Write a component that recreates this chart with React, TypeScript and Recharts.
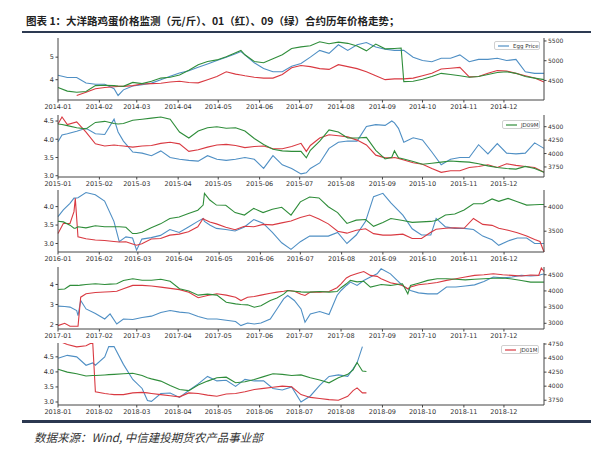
import React from "react"
import { LineChart, Line, XAxis, YAxis } from "recharts"

// day-of-year sample points, one panel per year
const days2014 = [0, 7, 14, 21, 28, 35, 42, 45, 49, 56, 63, 70, 77, 84, 91, 98, 105, 112, 119, 126, 133, 137, 140, 147, 154, 161, 168, 175, 182, 189, 196, 203, 210, 217, 224, 231, 238, 245, 252, 257, 259, 266, 273, 280, 287, 294, 301, 308, 315, 322, 329, 336, 343, 350, 357, 364]
const egg2014 = [4.2, 4.1, 4.1, 3.85, 3.8, 3.8, 3.6, 3.3,
  3.55, 3.72, 3.78, 3.85, 4.0, 4.15, 4.3, 4.4,
  4.55, 4.7, 4.85, 5.0, 5.15, 5.25, 5.1, 4.75,
  4.5, 4.35, 4.35, 4.6, 4.72, 5.0, 5.3, 5.17,
  5.55, 5.3, 5.55, 5.65, 5.45, 5.35, 5.3, 5.3,
  5.3, 5.0, 4.85, 4.8, 4.95, 4.95, 5.1, 4.8,
  4.9, 4.9, 4.95, 4.85, 4.9, 4.35, 4.28, 4.28]
const jd01_2014 = [null, null, 4120, 4200, 4290, 4320, 4340, 4350,
  4350, 4370, 4410, 4420, 4430, 4460, 4480, 4450,
  4440, 4520, 4600, 4720, 4660, 4640, 4620, 4580,
  4560, 4560, 4650, 4820, 4880, 4850, 4800, 4780,
  4900, 4850, 4800, 4720, 4620, 4520, 4540, 4540,
  4540, 4560, 4620, 4680, 4790, 4810, 4830, 4590,
  4600, 4680, 4750, 4740, 4680, 4620, 4560, 4460]
const jd09_2014 = [4320, 4230, 4200, 4220, 4370, 4380, 4370, 4360,
  4350, 4450, 4420, 4480, 4560, 4580, 4640, 4760,
  4900, 4980, 5020, 5100, 5200, 5260, 5150, 4980,
  4950, 5050, 5150, 5310, 5350, 5380, 5480, 5430,
  5470, 5440, 5370, 5250, 5420, 5300, 5310, 5320,
  4470, 4480, 4530, 4600, 4680, 4650, 4620, 4580,
  4600, 4650, 4700, 4720, 4680, 4600, 4560, 4520]

const days2015 = [0, 3, 7, 14, 21, 28, 35, 42, 45, 49, 56, 63, 70, 77, 84, 91, 98, 105, 112, 119, 126, 133, 140, 147, 154, 161, 168, 175, 182, 186, 189, 196, 203, 210, 217, 224, 231, 238, 245, 250, 252, 255, 259, 266, 273, 280, 287, 294, 301, 308, 315, 322, 329, 336, 343, 350, 357, 364]
const egg2015 = [3.93, 4.12, 4.15, 4.22, 4.3, 4.15, 4.13, 4.55,
  4.2, 3.95, 3.65, 3.62, 3.55, 3.68, 3.5, 3.45,
  3.42, 3.4, 3.55, 3.45, 3.42, 3.45, 3.5, 3.45,
  3.2, 3.55, 3.3, 3.2, 3.05, 3.08, 3.2, 3.35,
  3.75, 3.92, 3.95, 3.95, 4.35, 4.4, 4.38, 4.5,
  4.45, 4.3, 3.92, 4.04, 3.98, 3.65, 3.3, 3.45,
  3.5, 3.5, 3.85, 3.6, 3.88, 3.62, 3.6, 3.62,
  3.9, 3.75]
const jd01_2015 = [4550, 4680, 4540, 4590, 4400, 4180, 4140, 4160,
  4150, 4140, 4120, 4140, 4150, 4190, 4210, 4180,
  4040, 4070, 4120, 4160, 4170, 4150, 4110, 4130,
  4140, 4090, 4090, 4130, 4190, 4040, 4150, 4290,
  4350, 4330, 4310, 4250, 4160, 3970, 3920, 3920,
  3925, 3910, 3880, 3830, 3800, 3720, 3650, 3680,
  3680, 3740, 3760, 3790, 3740, 3810, 3780, 3760,
  3740, 3650]
const jd09_2015 = [4550, 4540, 4520, 4480, 4460, 4580, 4600, 4560,
  4550, 4560, 4620, 4640, 4660, 4680, 4640, 4400,
  4290, 4420, 4480, 4500, 4470, 4480, 4420, 4280,
  4170, 4080, 4050, 4040, 4040, 3920, 4060, 4230,
  4440, 4400, 4290, 4290, 4300, 4060, 3900, 3930,
  4050, 3920, 3900, 3850, 3800, 3820, 3840, 3860,
  3850, 3840, 3810, 3770, 3740, 3720, 3710, 3760,
  3720, 3650]

const days2016 = [0, 4, 9, 12, 13, 15, 21, 28, 35, 42, 46, 51, 56, 59, 63, 70, 77, 84, 91, 98, 105, 109, 110, 114, 119, 126, 133, 140, 147, 154, 161, 168, 175, 182, 189, 196, 203, 210, 217, 224, 231, 237, 244, 250, 259, 266, 273, 280, 284, 291, 298, 305, 312, 319, 326, 331, 338, 345, 352, 358, 362, 365]
const egg2016 = [3.73, 3.91, 4.09, 4.23, 4.23, 4.24, 4.38, 4.32,
  4.15, 3.6, 3.05, 3.18, 3.15, 2.82, 3.12, 3.16,
  3.22, 3.38, 3.3, 3.45, 3.6, 3.68, 3.6, 3.5,
  3.41, 3.38, 3.34, 3.45, 3.65, 3.55, 3.3, 3.02,
  2.84, 3.05, 3.2, 3.2, 3.2, 3.3, 3.0, 3.23,
  3.6, 4.27, 4.36, 4.1, 3.77, 3.4, 3.23, 3.23,
  3.68, 3.45, 3.41, 3.41, 3.38, 3.2, 3.1, 2.95,
  3.07, 3.15, 3.15, 3.0, 3.0, 3.0]
const jd01_2016 = [3452, 3658, 3660, 3900, 4171, 3384, 3345, 3320,
  3310, 3290, 3280, 3285, 3240, 3212, 3245, 3340,
  3350, 3420, 3440, 3490, 3590, 3760, 3740, 3690,
  3650, 3580, 3530, 3600, 3590, 3640, 3630, 3670,
  3710, 3780, 3830, 3750, 3650, 3500, 3460, 3520,
  3550, 3450, 3420, 3420, 3440, 3350, 3350, 3480,
  3540, 3560, 3570, 3560, 3760, 3640, 3620, 3560,
  3520, 3470, 3400, 3330, 3290, 3075]
const jd09_2016 = [3705, 3690, 3623, 3560, 3560, 3590, 3569, 3610,
  3590, 3590, 3590, 3580, 3452, 3452, 3480, 3570,
  3650, 3760, 3790, 3860, 3930, 4034, 4274, 4137,
  4034, 4030, 3880, 3830, 3966, 3880, 3950, 3990,
  3829, 4100, 4200, 4180, 4000, 3880, 3658, 3726,
  3740, 3600, 3680, 3760, 3720, 3680, 3690, 3700,
  3720, 3830, 3850, 3932, 4060, 4060, 4160, 4110,
  4170, 4103, 4034, 4040, 4045, 4045]

const days2017 = [0, 5, 9, 14, 15, 17, 21, 28, 35, 39, 44, 49, 56, 63, 70, 77, 84, 91, 98, 105, 112, 119, 126, 133, 137, 142, 147, 152, 159, 164, 169, 172, 177, 182, 185, 189, 196, 203, 209, 212, 216, 219, 224, 229, 234, 239, 242, 249, 254, 258, 262, 264, 270, 277, 284, 291, 298, 305, 312, 319, 326, 333, 340, 347, 354, 360, 362, 364]
const egg2017 = [2.92, 2.9, 2.87, 2.7, 2.45, 3.2, 2.78, 2.55,
  2.28, 2.53, 2.03, 2.28, 2.25, 2.35, 2.42, 2.6,
  2.7, 2.62, 2.58, 2.4, 2.28, 2.28, 2.22, 2.15,
  1.95, 2.08, 2.03, 2.08, 2.28, 2.78, 3.28, 3.45,
  3.2, 2.78, 2.12, 2.53, 2.65, 2.5, 3.45, 3.7,
  3.95, 4.12, 3.95, 4.2, 4.37, 4.53, 4.78, 4.53,
  4.2, 3.95, 3.78, 3.7, 3.58, 3.53, 3.53, 3.87,
  3.87, 3.92, 3.98, 4.15, 4.37, 4.33, 4.37, 4.45,
  4.42, 4.45, 4.5, 4.52]
const jd01_2017 = [2928, 3000, 2907, 2907, 2910, 3807, 3911, 3950,
  3965, 3975, 3990, 4066, 4170, 4170, 4150, 4118,
  4080, 4040, 3962, 3790, 3859, 3911, 3870, 3807,
  3704, 3807, 3830, 3870, 3930, 3962, 3990, 4014,
  3990, 3900, 3859, 3962, 3962, 3983, 4100, 4221,
  4400, 4470, 4540, 4600, 4480, 4450, 4377, 4250,
  4210, 4170, 4066, 4120, 4190, 4221, 4260, 4325,
  4377, 4428, 4480, 4500, 4532, 4500, 4480, 4460,
  4490, 4480, 4708, 4600]
const jd09_2017 = [4045, 4060, 4170, 4170, 4170, 4180, 4200, 4221,
  4200, 4210, 4221, 4325, 4377, 4330, 4330, 4360,
  4300, 4066, 4000, 3870, 3900, 3870, 3652, 3600,
  3580, 3570, 3497, 3540, 3704, 3780, 3900, 4014,
  3990, 3970, 3962, 3962, 3980, 3962, 3980, 4100,
  4220, 4325, 4280, 4300, 4118, 4170, 4200, 4170,
  4200, 4221, 3911, 4166, 4240, 4325, 4377, 4377,
  4360, 4340, 4360, 4377, 4390, 4400, 4370, 4320,
  4273, 4273, 4273, 4273]

const days2018 = [0, 7, 14, 21, 26, 28, 35, 38, 42, 49, 56, 63, 67, 70, 77, 84, 91, 98, 105, 112, 119, 126, 133, 140, 147, 154, 161, 168, 175, 182, 189, 196, 203, 210, 217, 221, 224, 228, 231]
const egg2018 = [4.45, 4.55, 4.5, 4.22, 4.3, 4.22, 4.5, 4.84,
  4.84, 4.25, 3.75, 3.45, 3.05, 3.02, 3.28, 3.3,
  3.15, 3.38, 3.6, 3.85, 3.7, 3.72, 3.52, 3.75,
  3.7, 3.7, 3.45, 3.4, 3.5, 3.0, 3.2, 3.55,
  3.85, 3.9, 3.85, 4.1, 4.3, 4.84, null]
const jd01_2018 = [4810, 4740, 4700, 4720, 4780, 3900, 3870, 3860,
  3850, 3850, 3880, 3890, 3880, 3870, 3850, 3830,
  3810, 3880, 3870, 3840, 3820, 3860, 3870, 3900,
  3940, 3960, 3980, 4000, 3990, 3850, 3800, 3780,
  3760, 3750, 3820, 3920, 3970, 3880, 3880]
const jd09_2018 = [4300, 4250, 4220, 4180, 4190, 4190, 4200, 4205,
  4210, 4220, 4230, 4190, 4150, 4130, 4090, 4010,
  3940, 3920, 4020, 4090, 4150, 4160, 4060, 4080,
  4120, 4170, 4220, 4210, 4190, 4200, 4150, 4110,
  4060, 4150, 4210, 4290, 4420, 4270, 4260]

const monthStarts = [0, 31, 59, 90, 120, 151, 181, 212, 243, 273, 304, 334]
const monthStartsLeap = [0, 31, 60, 91, 121, 152, 182, 213, 244, 274, 305, 335]
const monthLabels = ["01", "02", "03", "04", "05", "06", "07", "08", "09", "10", "11", "12"]

const BLUE = "#4f8fc4"
const RED = "#d93a42"
const GREEN = "#2f8d3a"
const AXIS = "#444"
const FONT = "DejaVu Sans"

const tickStyle = { fontSize: 6.5, fill: "#333", fontFamily: FONT }

interface PanelProps {
  year: number
  days: number[]
  egg: (number | null)[]
  c01: (number | null)[]
  c09: (number | null)[]
  top: number
  leftDomain: [number, number]
  leftTicks: number[]
  leftDigits: number
  rightDomain: [number, number]
  rightTicks: number[]
  legend?: { label: string; color: string; left: number; top: number; width: number }
}

function Panel(p: PanelProps) {
  const data = p.days.map((d, i) => ({
    d,
    egg: p.egg[i] ?? null,
    c01: p.c01[i] ?? null,
    c09: p.c09[i] ?? null,
  }))
  const leap = p.year % 4 === 0
  const ticks = leap ? monthStartsLeap : monthStarts
  const maxDay = leap ? 365 : 364

  return (
    <div style={{ position: "absolute", left: 0, top: p.top - 2, width: 600, height: 79 }}>
      <LineChart width={600} height={79} data={data} margin={{ top: 2, right: 21, bottom: 0, left: 28 }}>
        <XAxis
          xAxisId="b"
          dataKey="d"
          type="number"
          domain={[0, maxDay]}
          ticks={ticks}
          interval={0}
          tickFormatter={(v: number) => `${p.year}-${monthLabels[ticks.indexOf(v)]}`}
          tick={tickStyle}
          tickSize={2.5}
          tickMargin={2}
          height={15}
          axisLine={{ stroke: AXIS }}
          tickLine={{ stroke: AXIS }}
        />
        <XAxis
          xAxisId="t"
          orientation="top"
          dataKey="d"
          type="number"
          domain={[0, maxDay]}
          tick={false}
          tickLine={false}
          height={0}
          axisLine={{ stroke: AXIS }}
        />
        <YAxis
          yAxisId="l"
          type="number"
          domain={p.leftDomain}
          allowDataOverflow
          ticks={p.leftTicks}
          tickFormatter={(v: number) => v.toFixed(p.leftDigits)}
          tick={tickStyle}
          tickSize={2.5}
          tickMargin={1.5}
          width={30}
          axisLine={{ stroke: AXIS }}
          tickLine={{ stroke: AXIS }}
        />
        <YAxis
          yAxisId="r"
          orientation="right"
          type="number"
          domain={p.rightDomain}
          allowDataOverflow
          ticks={p.rightTicks}
          tick={{ ...tickStyle, fontSize: 6 }}
          tickSize={2.5}
          tickMargin={1.5}
          width={35}
          axisLine={{ stroke: AXIS }}
          tickLine={{ stroke: AXIS }}
        />
        <Line xAxisId="b" yAxisId="l" dataKey="egg" stroke={BLUE} strokeWidth={1.1} dot={false} isAnimationActive={false} />
        <Line xAxisId="b" yAxisId="r" dataKey="c01" stroke={RED} strokeWidth={1.1} dot={false} isAnimationActive={false} />
        <Line xAxisId="b" yAxisId="r" dataKey="c09" stroke={GREEN} strokeWidth={1.1} dot={false} isAnimationActive={false} />
      </LineChart>
      {p.legend && (
        <div
          style={{
            position: "absolute",
            left: p.legend.left,
            top: p.legend.top,
            width: p.legend.width,
            height: 9,
            boxSizing: "border-box",
            border: "1px solid #d0d0d0",
            borderRadius: 2,
            background: "#fff",
            display: "flex",
            alignItems: "center",
            fontFamily: FONT,
            fontSize: 5.5,
            color: "#333",
            paddingLeft: 3,
          }}
        >
          <svg width={11} height={4} style={{ flex: "none" }}>
            <line x1={0} y1={2} x2={11} y2={2} stroke={p.legend.color} strokeWidth={1.2} />
          </svg>
          <span style={{ marginLeft: 4, whiteSpace: "nowrap" }}>{p.legend.label}</span>
        </div>
      )}
    </div>
  )
}

export default function App() {
  return (
    <div style={{ position: "absolute", left: 0, top: 0, width: 600, height: 450, background: "#fff", overflow: "hidden" }}>
      <div
        style={{
          position: "absolute",
          left: 26,
          top: 14,
          fontFamily: "'Noto Sans CJK SC', sans-serif",
          fontWeight: 700,
          fontSize: 10.5,
          color: "#222",
          whiteSpace: "nowrap",
          lineHeight: "14px",
        }}
      >
        图表 1：大洋路鸡蛋价格监测（元/斤）、01（红）、09（绿）合约历年价格走势；
      </div>
      <div style={{ position: "absolute", left: 22, top: 31, width: 569, height: 2, background: "#2d3a52" }} />

      <Panel year={2014} days={days2014} egg={egg2014} c01={jd01_2014} c09={jd09_2014} top={38}
        leftDomain={[3.1, 5.85]} leftTicks={[4, 5]} leftDigits={0}
        rightDomain={[4005, 5575]} rightTicks={[4500, 5000, 5500]}
        legend={{ label: "Egg Price", color: BLUE, left: 494, top: 5, width: 46 }} />
      <Panel year={2015} days={days2015} egg={egg2015} c01={jd01_2015} c09={jd09_2015} top={115}
        leftDomain={[2.965, 4.665]} leftTicks={[3.0, 3.5, 4.0, 4.5]} leftDigits={1}
        rightDomain={[3563, 4718]} rightTicks={[3750, 4000, 4250, 4500]}
        legend={{ label: "JD09M", color: GREEN, left: 502, top: 7, width: 38 }} />
      <Panel year={2016} days={days2016} egg={egg2016} c01={jd01_2016} c09={jd09_2016} top={190}
        leftDomain={[2.77, 4.45]} leftTicks={[3.0, 3.5, 4.0]} leftDigits={1}
        rightDomain={[3075, 4342]} rightTicks={[3500, 4000]} />
      <Panel year={2017} days={days2017} egg={egg2017} c01={jd01_2017} c09={jd09_2017} top={267}
        leftDomain={[1.78, 4.87]} leftTicks={[2, 3, 4]} leftDigits={0}
        rightDomain={[2824, 4739]} rightTicks={[3000, 3500, 4000, 4500]} />
      <Panel year={2018} days={days2018} egg={egg2018} c01={jd01_2018} c09={jd09_2018} top={343}
        leftDomain={[2.9, 4.96]} leftTicks={[3.0, 3.5, 4.0, 4.5]} leftDigits={1}
        rightDomain={[3665, 4768]} rightTicks={[3750, 4000, 4250, 4500, 4750]}
        legend={{ label: "JD01M", color: RED, left: 501, top: 4, width: 38 }} />

      <div style={{ position: "absolute", left: 22, top: 420, width: 569, height: 2.5, background: "#2b3850" }} />
      <div
        style={{
          position: "absolute",
          left: 34,
          top: 429,
          fontFamily: "'Noto Sans CJK SC', sans-serif",
          fontStyle: "italic",
          fontSize: 11.5,
          color: "#333",
          whiteSpace: "nowrap",
          lineHeight: "16px",
        }}
      >
        数据来源：Wind, 中信建投期货农产品事业部
      </div>
    </div>
  )
}
